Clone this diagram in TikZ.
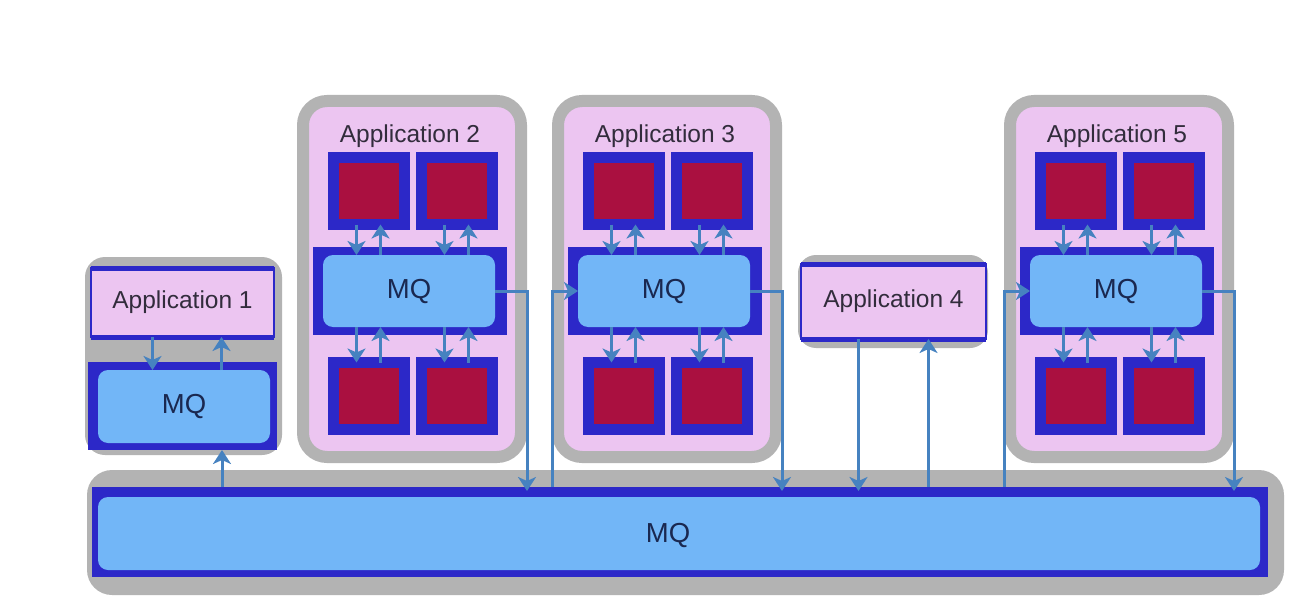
\documentclass[tikz,border=0pt]{standalone}
\usepackage{fontspec}
\setmainfont{Liberation Sans}
\usetikzlibrary{arrows.meta,positioning}

\definecolor{shellgray}{RGB}{179,179,179}
\definecolor{apppink}{RGB}{236,197,241}
\definecolor{qblue}{RGB}{44,40,200}
\definecolor{mqblue}{RGB}{114,182,247}
\definecolor{workred}{RGB}{170,16,64}
\definecolor{flowblue}{RGB}{70,130,192}
\definecolor{apptextc}{RGB}{50,44,60}
\definecolor{mqtextc}{RGB}{26,40,80}

\newcommand{\apptext}{\fontsize{24.5}{28}\selectfont}
\newcommand{\mqtext}{\fontsize{27.5}{30}\selectfont}

\begin{document}
\begin{tikzpicture}[x=1pt,y=-1pt]
	\tikzstyle{shell} = [fill=shellgray, inner sep=0, outer sep=0]
	\tikzstyle{container} = [draw=shellgray, line width=12pt, fill=apppink, rounded corners=24pt, minimum width=218pt, minimum height=356pt, inner sep=0]
	\tikzstyle{appbox} = [draw=qblue, line width=2pt, fill=apppink, inner sep=0, outer sep=0, font=\apptext, text=apptextc]
	\tikzstyle{apptitle} = [inner sep=0, font=\apptext, text=apptextc]
	\tikzstyle{frame} = [fill=qblue, inner sep=0, outer sep=0]
	\tikzstyle{mq} = [fill=mqblue, rounded corners=10pt, inner sep=0, outer sep=0, font=\mqtext, text=mqtextc]
	\tikzstyle{mqlabel} = [inner sep=0, font=\mqtext, text=mqtextc]
	\tikzstyle{worker} = [draw=qblue, fill=workred, line width=11pt, minimum width=71pt, minimum height=67pt, inner sep=0, outer sep=0]
	\tikzstyle{flow} = [draw=flowblue, line width=3pt, -{Stealth[length=14pt,width=18pt,inset=4pt]}]

	\useasboundingbox (0,0) rectangle (1298,615);

	% message bus
	\node[shell, rounded corners=25pt, minimum width=1197pt, minimum height=125pt] (busshell) at (685.5,532.5) {};
	\node[frame, minimum width=1176pt, minimum height=90pt] (busf) at (680,532) {};
	\node[mq, minimum width=1162pt, minimum height=73pt] (bus) at (679,533.5) {};
	\node[mqlabel] (buslabel) at (668,535) {MQ};

	% application 1
	\node[shell, rounded corners=20pt, minimum width=197pt, minimum height=198pt] (shell1) at (183.5,356) {};
	\node[appbox, minimum width=183pt, minimum height=69pt] (app1) at (182.5,302.5) {Application 1};
	\draw[qblue, line width=5pt] (app1.north west) -- (app1.north east);
	\draw[qblue, line width=5pt] (app1.south west) -- (app1.south east);
	\node[frame, minimum width=189pt, minimum height=88pt] (mqf1) at (182.5,406) {};
	\node[mq, minimum width=172pt, minimum height=73pt] (mq1) at (184,406.5) {MQ};
	\draw[flow] ([xshift=-30pt]app1.south) -- ([xshift=-30pt]app1.south |- mq1.north);
	\draw[flow] ([xshift=39pt]app1.south |- mq1.north) -- ([xshift=39pt]app1.south);

	% application 4
	\node[shell, rounded corners=18pt, minimum width=190pt, minimum height=93pt] (shell4) at (893,301.5) {};
	\node[appbox, minimum width=185pt, minimum height=75pt] (app4) at (893.5,301.5) {Application 4};
	\draw[qblue, line width=5pt] (app4.north west) -- (app4.north east);
	\draw[qblue, line width=5pt] (app4.south west) -- (app4.south east);

	% applications 2, 3, 5
	\foreach \n/\l in {2/297,3/552,5/1004}
	{
		\node[container] (app\n) at (\l+115,279) {};
		\node[apptitle] (title\n) at (\l+113,136) {Application \n};
		\node[frame, minimum width=194pt, minimum height=88pt] (mqf\n) at (\l+113,291) {};
		\node[mq, minimum width=172pt, minimum height=72pt] (mq\n) at (\l+112,291) {MQ};
		\foreach \s/\dx/\yy in {a/71.5/191, b/159.5/191, c/71.5/396, d/159.5/396}
			\node[worker] (w\n\s) at (\l+\dx,\yy) {};
		\foreach \s in {a,b}
		{
			\draw[flow] ([xshift=-12pt]w\n\s.south) -- ([xshift=-12pt]w\n\s.south |- mq\n.north);
			\draw[flow] ([xshift=12pt]w\n\s.south |- mq\n.north) -- ([xshift=12pt]w\n\s.south);
		}
		\foreach \s in {c,d}
		{
			\draw[flow] ([xshift=-12pt]w\n\s.north |- mq\n.south) -- ([xshift=-12pt]w\n\s.north);
			\draw[flow] ([xshift=12pt]w\n\s.north) -- ([xshift=12pt]w\n\s.north |- mq\n.south);
		}
	}

	% links to the bus
	\draw[flow] ([xshift=39.5pt]mqf1.south |- busf.north) -- ([xshift=39.5pt]mqf1.south);
	\draw[flow] (mq2.east) -| ([yshift=-4pt]app2.east |- busf.north);
	\draw[flow] (app3.west |- busf.north) |- (mq3.west);
	\draw[flow] (mq3.east) -| ([yshift=-4pt]app3.east |- busf.north);
	\draw[flow] ([xshift=-35pt]app4.south) -- ([xshift=-35pt,yshift=-4pt]app4.south |- busf.north);
	\draw[flow] ([xshift=35pt]app4.south |- busf.north) -- ([xshift=35pt]app4.south);
	\draw[flow] (app5.west |- busf.north) |- (mq5.west);
	\draw[flow] (mq5.east) -| ([yshift=-4pt]app5.east |- busf.north);
\end{tikzpicture}
\end{document}
